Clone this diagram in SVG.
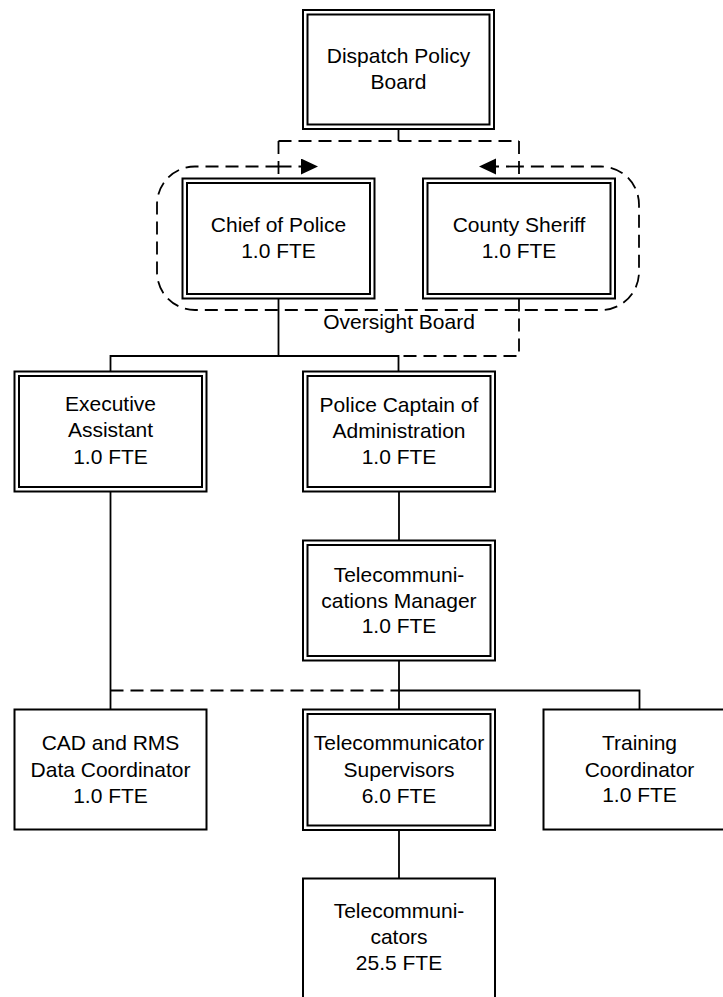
<svg xmlns="http://www.w3.org/2000/svg" width="723" height="997" viewBox="0 0 723 997">
<style>
  .bx { fill: #fff; stroke: #000; stroke-width: 2; }
  .in { fill: none; stroke: #000; stroke-width: 2; }
  .t { font-family: "Liberation Sans", Arial, sans-serif; font-size: 21px; fill: #000; text-anchor: middle; }
  .solid { fill: none; stroke: #000; stroke-width: 1.8; }
  .dash { fill: none; stroke: #000; stroke-width: 1.8; stroke-dasharray: 13 7; }
</style>
<defs>
  <marker id="arr" markerUnits="userSpaceOnUse" markerWidth="18" markerHeight="17" refX="17" refY="8" orient="auto">
    <path d="M0,0 L17,8 L0,16 z" fill="#000"/>
  </marker>
</defs>
<rect width="723" height="997" fill="#fff"/>

<g id="connectors">
  <path class="solid" d="M398.5,129 V141"/>
  <path class="dash" d="M278.5,141 H519 M278.5,141 V178 M519,141 V178"/>
  <path class="dash" d="M278.5,166.5 H318" marker-end="url(#arr)"/>
  <path class="dash" d="M519,166.5 H479" marker-end="url(#arr)"/>
  <path class="solid" d="M278.5,298.5 V356 M110.5,371 V356 H398.5 V371"/>
  <path class="dash" d="M519,298.5 V356 H398.5"/>
  <path class="solid" d="M399,491.5 V540.5"/>
  <path class="solid" d="M110.5,491.5 V709.5"/>
  <path class="dash" d="M110.5,690.5 H399"/>
  <path class="solid" d="M399,660.5 V709.5 M399,690.5 H639.5 V709.5"/>
  <path class="solid" d="M399,830 V878.5"/>
</g>

<g id="oversight-board">
  <path class="dash" d="M278.5,166.5 H195 A38,38 0 0 0 157,204.5 V272 A38,38 0 0 0 195,310 H601 A38,38 0 0 0 639,272 V204.5 A38,38 0 0 0 601,166.5 H519"/>
  <text class="t" x="399" y="329">Oversight Board</text>
</g>

<g id="dispatch-policy-board">
  <rect class="bx" x="303" y="10" width="191" height="119"/>
  <rect class="in" x="307.5" y="14.5" width="182" height="110"/>
  <text class="t" x="398.5" y="63.3">Dispatch Policy</text>
  <text class="t" x="398.5" y="88.5">Board</text>
</g>

<g id="chief-of-police">
  <rect class="bx" x="182.5" y="178.5" width="192" height="120"/>
  <rect class="in" x="187" y="183" width="183" height="111"/>
  <text class="t" x="278.5" y="231.7">Chief of Police</text>
  <text class="t" x="278.5" y="257.7">1.0 FTE</text>
</g>

<g id="county-sheriff">
  <rect class="bx" x="423" y="178.5" width="192" height="120"/>
  <rect class="in" x="427.5" y="183" width="183" height="111"/>
  <text class="t" x="519" y="231.7">County Sheriff</text>
  <text class="t" x="519" y="257.7">1.0 FTE</text>
</g>

<g id="executive-assistant">
  <rect class="bx" x="14.5" y="371.5" width="192" height="120"/>
  <rect class="in" x="19" y="376" width="183" height="111"/>
  <text class="t" x="110.5" y="410.7">Executive</text>
  <text class="t" x="110.5" y="437.3">Assistant</text>
  <text class="t" x="110.5" y="464">1.0 FTE</text>
</g>

<g id="police-captain">
  <rect class="bx" x="303" y="371.5" width="192" height="120"/>
  <rect class="in" x="307.5" y="376" width="183" height="111"/>
  <text class="t" x="399" y="411.5">Police Captain of</text>
  <text class="t" x="399" y="438">Administration</text>
  <text class="t" x="399" y="464">1.0 FTE</text>
</g>

<g id="telecommunications-manager">
  <rect class="bx" x="303" y="540.5" width="192" height="120"/>
  <rect class="in" x="307.5" y="545" width="183" height="111"/>
  <text class="t" x="399" y="581.7">Telecommuni-</text>
  <text class="t" x="399" y="607.5">cations Manager</text>
  <text class="t" x="399" y="633.3">1.0 FTE</text>
</g>

<g id="cad-rms-coordinator">
  <rect class="bx" x="14.5" y="709.5" width="192" height="120"/>
  <text class="t" x="110.5" y="750">CAD and RMS</text>
  <text class="t" x="110.5" y="776.5">Data Coordinator</text>
  <text class="t" x="110.5" y="802.5">1.0 FTE</text>
</g>

<g id="telecommunicator-supervisors">
  <rect class="bx" x="303" y="709.5" width="192" height="120.5"/>
  <rect class="in" x="307.5" y="714" width="183" height="111.5"/>
  <text class="t" x="399" y="750">Telecommunicator</text>
  <text class="t" x="399" y="776.5">Supervisors</text>
  <text class="t" x="399" y="802.5">6.0 FTE</text>
</g>

<g id="training-coordinator">
  <rect class="bx" x="543.5" y="709.5" width="192" height="120"/>
  <text class="t" x="639.5" y="750">Training</text>
  <text class="t" x="639.5" y="776.5">Coordinator</text>
  <text class="t" x="639.5" y="802">1.0 FTE</text>
</g>

<g id="telecommunicators">
  <rect class="bx" x="303" y="878.5" width="192" height="140"/>
  <text class="t" x="399" y="918">Telecommuni-</text>
  <text class="t" x="399" y="944">cators</text>
  <text class="t" x="399" y="970">25.5 FTE</text>
</g>
</svg>
